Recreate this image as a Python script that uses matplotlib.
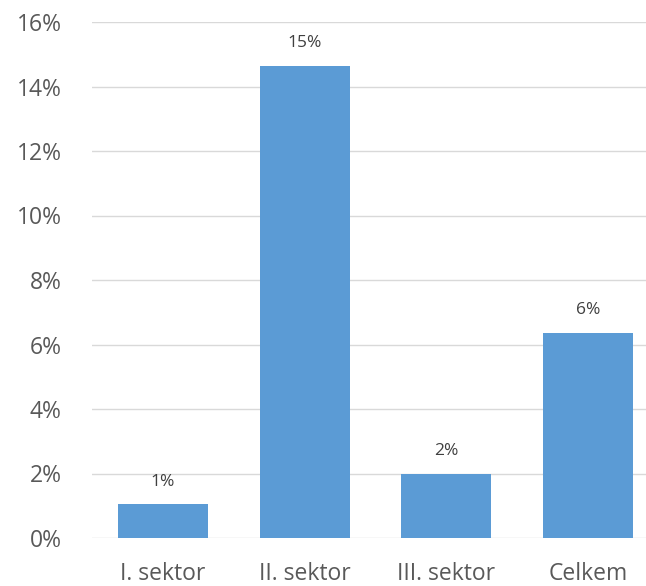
import matplotlib.pyplot as plt
from matplotlib.ticker import FuncFormatter

categories = ['I. sektor', 'II. sektor', 'III. sektor', 'Celkem']
values = [1.05, 14.64, 2.0, 6.37]  # percent
labels = ['1%', '15%', '2%', '6%']

plt.rcParams['font.family'] = ['Open Sans', 'DejaVu Sans']

fig = plt.figure(figsize=(6.46, 5.86), dpi=100)
ax = fig.add_axes([92 / 646, 1 - 538 / 586, 567 / 646, 516 / 586])

x = range(len(categories))
bars = ax.bar(x, values, width=0.634, color='#5B9BD5', zorder=3)
for b, lab in zip(bars, labels):
    ax.text(b.get_x() + b.get_width() / 2, b.get_height() + 0.45, lab,
            ha='center', va='bottom', fontsize=12.5, color='#404040')

ax.set_xlim(-0.5, 3.5)
ax.set_ylim(0, 16)
ax.set_yticks(range(0, 17, 2))
ax.yaxis.set_major_formatter(FuncFormatter(lambda v, p: f'{v:.0f}%'))
ax.set_xticks(list(x))
ax.set_xticklabels(categories)
ax.grid(axis='y', color='#D9D9D9', lw=1, zorder=0)
for s in ax.spines.values():
    s.set_visible(False)
ax.tick_params(length=0, labelsize=16.5, colors='#595959')
ax.tick_params(axis='y', pad=22)
ax.tick_params(axis='x', pad=17)

plt.savefig('out.png', dpi=100)
